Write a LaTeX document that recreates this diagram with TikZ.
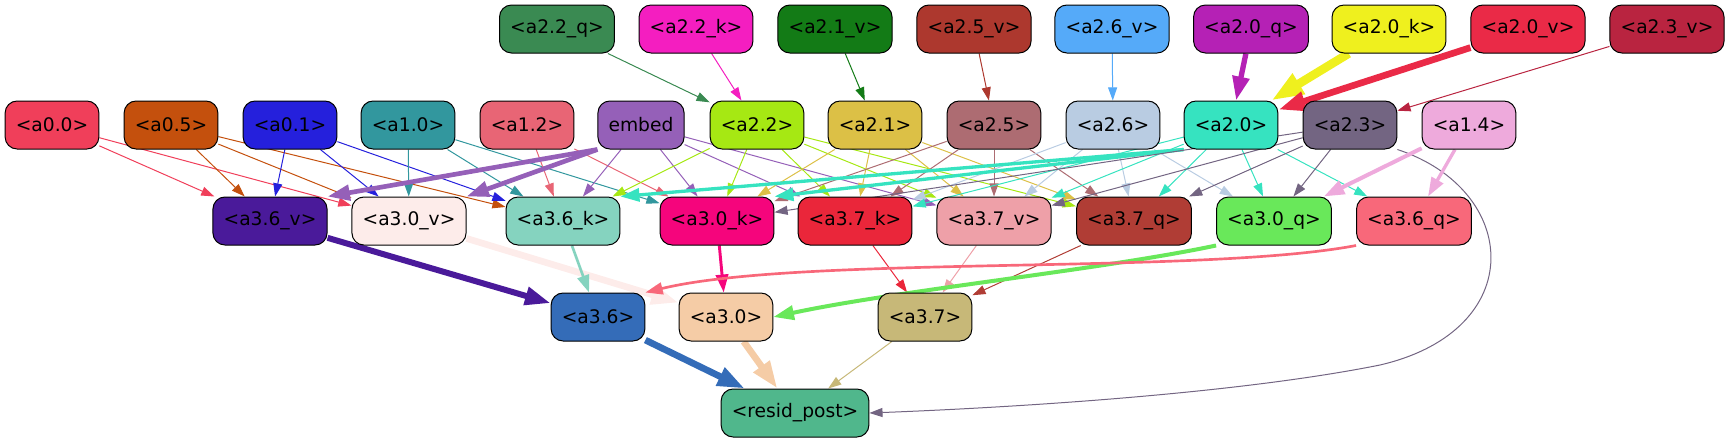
\documentclass[tikz,border=0pt]{standalone}
\usepackage{fontspec}
\setmainfont{DejaVu Sans}
\usetikzlibrary{arrows.meta}
\pgfdeclarelayer{back}
\pgfsetlayers{back,main}

\definecolor{ca22q}{HTML}{3A8A52}
\definecolor{ca22k}{HTML}{F41EC0}
\definecolor{ca21v}{HTML}{137B16}
\definecolor{ca25v}{HTML}{AD382E}
\definecolor{ca26v}{HTML}{55AAF9}
\definecolor{ca20q}{HTML}{B521B5}
\definecolor{ca20k}{HTML}{EFF01E}
\definecolor{ca20v}{HTML}{EA2A47}
\definecolor{ca23v}{HTML}{B92440}
\definecolor{ca00}{HTML}{F03F5A}
\definecolor{ca05}{HTML}{C4500D}
\definecolor{ca01}{HTML}{2520DC}
\definecolor{ca10}{HTML}{32979E}
\definecolor{ca12}{HTML}{E86575}
\definecolor{cembed}{HTML}{9560B8}
\definecolor{ca22}{HTML}{A6E813}
\definecolor{ca21}{HTML}{DCC046}
\definecolor{ca25}{HTML}{AD6C72}
\definecolor{ca26}{HTML}{B9CCE2}
\definecolor{ca20}{HTML}{36E3C0}
\definecolor{ca23}{HTML}{736582}
\definecolor{ca14}{HTML}{EEAADC}
\definecolor{ca36v}{HTML}{4A1A9A}
\definecolor{ca30v}{HTML}{FDECEA}
\definecolor{ca36k}{HTML}{85D3BF}
\definecolor{ca30k}{HTML}{F5057C}
\definecolor{ca37k}{HTML}{EA263A}
\definecolor{ca37v}{HTML}{EEA0A8}
\definecolor{ca37q}{HTML}{B03D35}
\definecolor{ca30q}{HTML}{69E85A}
\definecolor{ca36q}{HTML}{F8687A}
\definecolor{ca36}{HTML}{346CB8}
\definecolor{ca30}{HTML}{F5CCA6}
\definecolor{ca37}{HTML}{C7B878}
\definecolor{crp}{HTML}{50B78C}

\begin{document}
\begin{tikzpicture}[x=0.75pt, y=-0.75pt,
	box node/.style={draw=black, line width=0.75pt, rounded corners=9pt, fill=#1,
		minimum height=36pt, inner xsep=8pt, inner ysep=0pt, font=\fontsize{14}{16}\selectfont},
	link/.style 2 args={draw=#1, line width=#2, -{Triangle[length=8pt 2.5, width=5.5pt 1.7]}},
	thin link/.style={link={#1}{0.75pt}}]

	\useasboundingbox (0,0) rectangle (1733,443);

	% top row
	\node[box node=ca22q] (a22q) at (557,29) {<a2.2\_q>};
	\node[box node=ca22k] (a22k) at (696,29) {<a2.2\_k>};
	\node[box node=ca21v] (a21v) at (835,29) {<a2.1\_v>};
	\node[box node=ca25v] (a25v) at (974,29) {<a2.5\_v>};
	\node[box node=ca26v] (a26v) at (1112,29) {<a2.6\_v>};
	\node[box node=ca20q] (a20q) at (1251,29) {<a2.0\_q>};
	\node[box node=ca20k] (a20k) at (1389,29) {<a2.0\_k>};
	\node[box node=ca20v] (a20v) at (1528,29) {<a2.0\_v>};
	\node[box node=ca23v] (a23v) at (1667,29) {<a2.3\_v>};

	% second row
	\node[box node=ca00] (a00) at (52,125) {<a0.0>};
	\node[box node=ca05] (a05) at (171,125) {<a0.5>};
	\node[box node=ca01] (a01) at (290,125) {<a0.1>};
	\node[box node=ca10] (a10) at (408,125) {<a1.0>};
	\node[box node=ca12] (a12) at (527,125) {<a1.2>};
	\node[box node=cembed] (embed) at (641,125) {embed};
	\node[box node=ca22] (a22) at (757,125) {<a2.2>};
	\node[box node=ca21] (a21) at (875,125) {<a2.1>};
	\node[box node=ca25] (a25) at (994,125) {<a2.5>};
	\node[box node=ca26] (a26) at (1113,125) {<a2.6>};
	\node[box node=ca20] (a20) at (1231,125) {<a2.0>};
	\node[box node=ca23] (a23) at (1350,125) {<a2.3>};
	\node[box node=ca14] (a14) at (1469,125) {<a1.4>};

	% third row
	\node[box node=ca36v] (a36v) at (270,221) {<a3.6\_v>};
	\node[box node=ca30v] (a30v) at (409,221) {<a3.0\_v>};
	\node[box node=ca36k] (a36k) at (563,221) {<a3.6\_k>};
	\node[box node=ca30k] (a30k) at (717,221) {<a3.0\_k>};
	\node[box node=ca37k] (a37k) at (855,221) {<a3.7\_k>};
	\node[box node=ca37v] (a37v) at (994,221) {<a3.7\_v>};
	\node[box node=ca37q] (a37q) at (1134,221) {<a3.7\_q>};
	\node[box node=ca30q] (a30q) at (1274,221) {<a3.0\_q>};
	\node[box node=ca36q] (a36q) at (1414,221) {<a3.6\_q>};

	% fourth row
	\node[box node=ca36] (a36) at (598,317) {<a3.6>};
	\node[box node=ca30] (a30) at (726,317) {<a3.0>};
	\node[box node=ca37] (a37) at (925,317) {<a3.7>};

	\node[box node=crp] (rp) at (795,413) {<resid\_post>};

	\begin{pgfonlayer}{back}
	\draw[thin link=ca22q] (a22q) -- (a22);
	\draw[thin link=ca22k] (a22k) -- (a22);
	\draw[thin link=ca21v] (a21v) -- (a21);
	\draw[thin link=ca25v] (a25v) -- (a25);
	\draw[thin link=ca26v] (a26v) -- (a26);
	\draw[link={ca20q}{4pt}] (a20q) -- (a20);
	\draw[link={ca20k}{6.5pt}] (a20k) -- (a20);
	\draw[link={ca20v}{5pt}] (a20v) -- (a20);
	\draw[thin link=ca23v] (a23v) -- (a23);

	\draw[thin link=ca00] (a00) -- (a36v);
	\draw[thin link=ca00] (a00) -- (a30v);
	\draw[thin link=ca05] (a05) -- (a36v);
	\draw[thin link=ca05] (a05) -- (a30v);
	\draw[thin link=ca05] (a05) -- (a36k);
	\draw[thin link=ca01] (a01) -- (a36v);
	\draw[thin link=ca01] (a01) -- (a30v);
	\draw[thin link=ca01] (a01) -- (a36k);
	\draw[thin link=ca10] (a10) -- (a30v);
	\draw[thin link=ca10] (a10) -- (a36k);
	\draw[thin link=ca10] (a10) -- (a30k);
	\draw[thin link=ca12] (a12) -- (a36k);
	\draw[thin link=ca12] (a12) -- (a30k);
	\draw[link={cembed}{3.5pt}] (embed.south west) -- (a36v.north east);
	\draw[link={cembed}{3.5pt}] (embed.south west) -- (a30v.north east);
	\draw[thin link=cembed] (embed) -- (a36k);
	\draw[thin link=cembed] (embed) -- (a30k);
	\draw[thin link=cembed] (embed) -- (a37k);
	\draw[thin link=cembed] (embed) -- (a37v);
	\draw[thin link=ca22] (a22) -- (a36k);
	\draw[thin link=ca22] (a22) -- (a30k);
	\draw[thin link=ca22] (a22) -- (a37k);
	\draw[thin link=ca22] (a22) -- (a37v);
	\draw[thin link=ca22] (a22) -- (a37q);
	\draw[thin link=ca21] (a21) -- (a30k);
	\draw[thin link=ca21] (a21) -- (a37k);
	\draw[thin link=ca21] (a21) -- (a37v);
	\draw[thin link=ca21] (a21) -- (a37q);
	\draw[thin link=ca25] (a25) -- (a30k);
	\draw[thin link=ca25] (a25) -- (a37k);
	\draw[thin link=ca25] (a25) -- (a37v);
	\draw[thin link=ca25] (a25) -- (a37q);
	\draw[thin link=ca26] (a26) -- (a37k);
	\draw[thin link=ca26] (a26) -- (a37v);
	\draw[thin link=ca26] (a26) -- (a37q);
	\draw[thin link=ca26] (a26) -- (a30q);
	\draw[link={ca20}{2.5pt}] (a20.south west) -- (a36k.north east);
	\draw[link={ca20}{2.5pt}] (a20.south west) -- (a30k.north east);
	\draw[thin link=ca20] (a20) -- (a37k);
	\draw[thin link=ca20] (a20) -- (a37v);
	\draw[thin link=ca20] (a20) -- (a37q);
	\draw[thin link=ca20] (a20) -- (a30q);
	\draw[thin link=ca20] (a20) -- (a36q);
	\draw[thin link=ca23] (a23) -- (a30k);
	\draw[thin link=ca23] (a23) -- (a37v);
	\draw[thin link=ca23] (a23) -- (a37q);
	\draw[thin link=ca23] (a23) -- (a30q);
	\draw[thin link=ca23] (a23.south east) .. controls (1520,190) and (1530,330) .. (1380,365)
		.. controls (1230,395) and (1000,408) .. (rp.east);
	\draw[link={ca14}{3pt}] (a14) -- (a30q);
	\draw[link={ca14}{2.5pt}] (a14) -- (a36q);

	\draw[link={ca36v}{4.5pt}] (a36v) -- (a36);
	\draw[link={ca30v}{5pt}] (a30v) -- (a30);
	\draw[link={ca36k}{2pt}] (a36k) -- (a36);
	\draw[link={ca30k}{2.2pt}] (a30k) -- (a30);
	\draw[thin link=ca37k] (a37k) -- (a37);
	\draw[thin link=ca37v] (a37v) -- (a37);
	\draw[thin link=ca37q] (a37q) -- (a37);
	\draw[link={ca30q}{3pt}] (a30q.south west) .. controls (1100,270) and (900,290) .. (a30.east);
	\draw[link={ca36q}{2pt}] (a36q.south west) .. controls (1200,275) and (800,255) .. (a36.north east);

	\draw[link={ca36}{5pt}] (a36) -- (rp);
	\draw[link={ca30}{5pt}] (a30) -- (rp);
	\draw[thin link=ca37] (a37) -- (rp);
	\end{pgfonlayer}
\end{tikzpicture}
\end{document}
